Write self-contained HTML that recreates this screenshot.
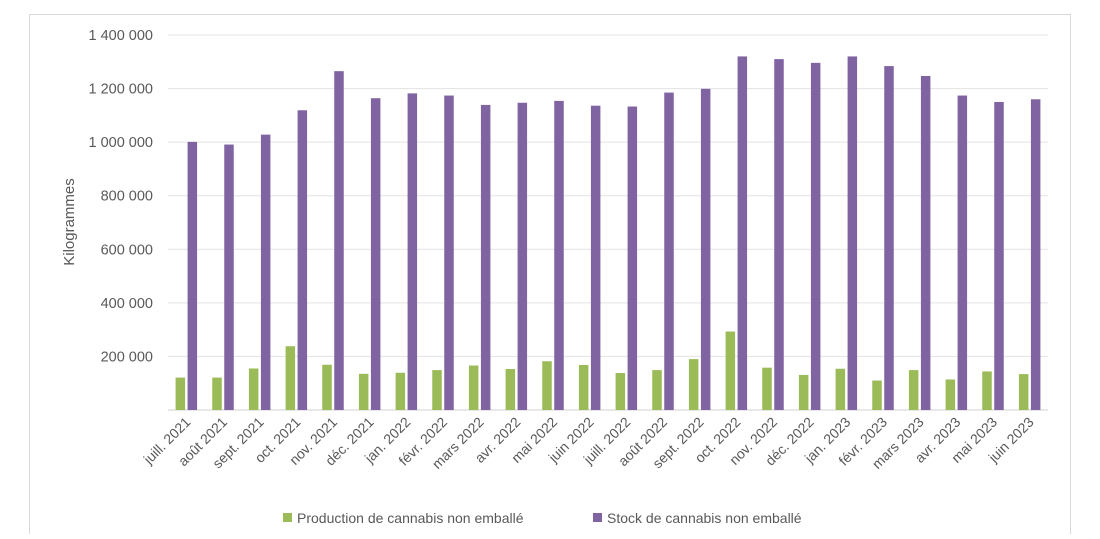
<!DOCTYPE html>
<html><head><meta charset="utf-8"><style>
body{margin:0;background:#fff;}
svg text{font-family:"Liberation Sans",sans-serif;fill:#595959;}
</style></head><body>
<svg id="chart" width="1100" height="534">
<rect x="29.5" y="14.5" width="1041" height="530" fill="#fff" stroke="#d9d9d9"/>
<g id="grid"></g><g id="bars"></g><g id="xl"></g>
<text transform="translate(74,222) rotate(-90)" text-anchor="middle" font-size="15">Kilogrammes</text>
<g>
<rect x="283" y="513" width="9" height="9" fill="#9bbb59"/>
<text x="297" y="523" font-size="14">Production de cannabis non emballé</text>
<rect x="593" y="513" width="9" height="9" fill="#8064a2"/>
<text x="607" y="523" font-size="14">Stock de cannabis non emballé</text>
</g>
</svg>
<script>
const categories=["juill. 2021","août 2021","sept. 2021","oct. 2021","nov. 2021","déc. 2021","jan. 2022","févr. 2022","mars 2022","avr. 2022","mai 2022","juin 2022","juill. 2022","août 2022","sept. 2022","oct. 2022","nov. 2022","déc. 2022","jan. 2023","févr. 2023","mars 2023","avr. 2023","mai 2023","juin 2023"];
const production=[121000,121000,155000,238000,169000,135000,139000,149000,166000,153000,182000,168000,138000,149000,190000,293000,158000,131000,154000,110000,149000,114000,144000,134000];
const stock=[1001000,991000,1028000,1119000,1265000,1164000,1182000,1174000,1139000,1147000,1154000,1136000,1133000,1185000,1199000,1320000,1310000,1296000,1320000,1284000,1247000,1174000,1150000,1160000];
const yTicks=[0,200000,400000,600000,800000,1000000,1200000,1400000];
const yTickLabels=["","200 000","400 000","600 000","800 000","1 000 000","1 200 000","1 400 000"];
const NS="http://www.w3.org/2000/svg";
const X0=168,X1=1048,Y0=410,Y1=35,YMAX=1400000;
const y=v=>Y0-(v/YMAX)*(Y0-Y1);
const band=(X1-X0)/categories.length;
const xc=i=>X0+band*(i+0.5);
function mk(t,a,p){const e=document.createElementNS(NS,t);for(const k in a)e.setAttribute(k,a[k]);p.appendChild(e);return e;}
const grid=document.getElementById('grid'),bars=document.getElementById('bars'),xl=document.getElementById('xl');
yTicks.forEach((v,i)=>{
  const l=mk('line',{x1:X0,x2:X1,y1:y(v),y2:y(v),stroke:i===0?'#d0d0d0':'#e3e3e3','stroke-width':1},grid);
  
  
  if(yTickLabels[i]){const t=mk('text',{x:153,y:y(v)+5,'text-anchor':'end','font-size':14.5},grid);t.textContent=yTickLabels[i];
  
  }
});
const bw=9.5,gap=2.5;
categories.forEach((c,i)=>{
  const cx=xc(i);
  const g=mk('rect',{x:cx-gap/2-bw,y:y(production[i]),width:bw,height:Y0-y(production[i]),fill:'#9bbb59'},bars);
  
  
  const p=mk('rect',{x:cx+gap/2,y:y(stock[i]),width:bw,height:Y0-y(stock[i]),fill:'#8064a2'},bars);
  
  
  const t=mk('text',{transform:`translate(${cx+5},${Y0+13}) rotate(-45)`,'text-anchor':'end','font-size':14},xl);
  t.textContent=c;
  
  
});
</script>
</body></html>
